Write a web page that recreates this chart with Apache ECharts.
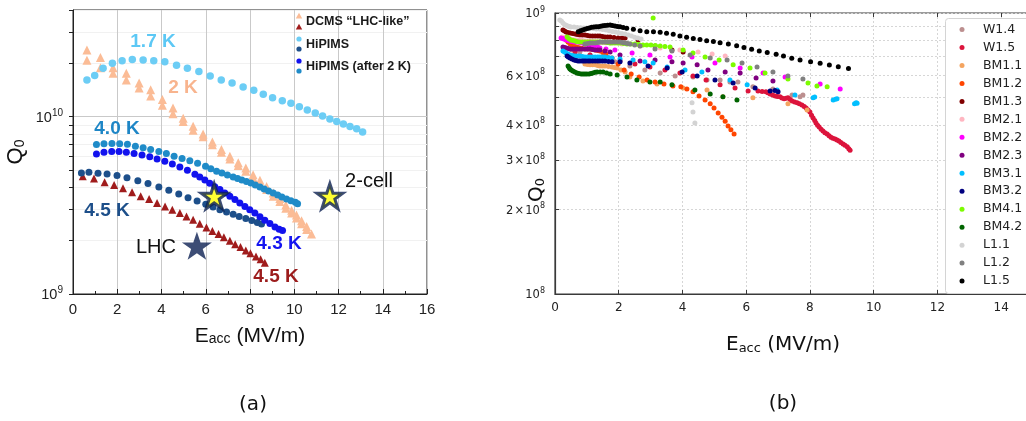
<!DOCTYPE html>
<html>
<head>
<meta charset="utf-8">
<script src="https://cdn.jsdelivr.net/npm/echarts@6/dist/echarts.min.js"></script>
<style>
html,body{margin:0;padding:0;background:#fff;}
#chart{width:1026px;height:421px;}
</style>
</head>
<body>
<div id="chart"></div>
<script>
// ---------- Panel (a): Q0 vs Eacc, DCMS and HiPIMS coatings ----------
const hip17_E = [0.63,0.98,1.36,1.78,2.22,2.68,3.17,3.65,4.15,4.68,5.17,5.69,6.20,6.70,7.19,7.69,8.17,8.60,9.02,9.46,9.85,10.23,10.59,10.95,11.28,11.61,11.92,12.22,12.52,12.82,13.09];
const hip17_Q = [1.61e10,1.71e10,1.88e10,2.0e10,2.07e10,2.10e10,2.09e10,2.07e10,2.04e10,1.95e10,1.88e10,1.80e10,1.70e10,1.61e10,1.55e10,1.47e10,1.41e10,1.34e10,1.28e10,1.23e10,1.19e10,1.14e10,1.09e10,1.05e10,1.01e10,9.7e9,9.4e9,9.1e9,8.8e9,8.55e9,8.2e9];

const dcms2_E = [0.63,0.63,1.24,1.24,1.81,1.81,2.41,2.41,2.99,2.99,3.51,3.51,4.04,4.04,4.52,4.52,4.98,4.98,5.43,5.43,5.88,5.88,6.30,6.30,6.71,6.71,7.09,7.09,7.47,7.47,7.81,7.81,8.14,8.14,8.45,8.45,8.75,8.75,9.05,9.05,9.35,9.35,9.62,9.62,9.88,9.88,10.10,10.10,10.33,10.33,10.56,10.56,10.78];
const dcms2_Q = [2.38e10,2.08e10,2.16e10,1.89e10,1.89e10,1.76e10,1.76e10,1.61e10,1.55e10,1.45e10,1.42e10,1.31e10,1.25e10,1.16e10,1.12e10,1.04e10,9.8e9,9.4e9,8.85e9,8.4e9,7.98e9,7.7e9,7.2e9,6.95e9,6.53e9,6.3e9,5.98e9,5.78e9,5.5e9,5.3e9,5.13e9,4.93e9,4.71e9,4.52e9,4.38e9,4.2e9,4.04e9,3.88e9,3.71e9,3.56e9,3.46e9,3.32e9,3.18e9,3.05e9,2.97e9,2.86e9,2.79e9,2.68e9,2.59e9,2.49e9,2.40e9,2.31e9,2.18e9];

const hip40_E = [1.06,1.40,1.76,2.11,2.46,2.82,3.17,3.51,3.88,4.22,4.57,4.93,5.28,5.63,5.99,6.23,6.49,6.73,6.98,7.24,7.44,7.63,7.84,8.04,8.24,8.45,8.64,8.84,9.05,9.25,9.44,9.65,9.85,10.05,10.15];
const hip40_Q = [6.97e9,7.03e9,7.06e9,7.03e9,7.0e9,6.82e9,6.68e9,6.53e9,6.37e9,6.2e9,5.98e9,5.81e9,5.64e9,5.47e9,5.26e9,5.08e9,4.92e9,4.82e9,4.69e9,4.57e9,4.48e9,4.40e9,4.31e9,4.23e9,4.12e9,4.02e9,3.91e9,3.81e9,3.71e9,3.62e9,3.52e9,3.43e9,3.36e9,3.29e9,3.23e9];

const hip43_E = [1.06,1.40,1.75,2.08,2.41,2.76,3.12,3.47,3.80,4.15,4.49,4.83,5.17,5.51,5.73,5.96,6.18,6.41,6.64,6.86,7.09,7.32,7.54,7.77,7.99,8.22,8.45,8.67,8.90,9.13,9.32,9.47];
const hip43_Q = [6.17e9,6.31e9,6.37e9,6.37e9,6.31e9,6.2e9,6.09e9,5.94e9,5.78e9,5.61e9,5.42e9,5.21e9,4.99e9,4.73e9,4.57e9,4.40e9,4.21e9,4.03e9,3.88e9,3.71e9,3.56e9,3.41e9,3.26e9,3.12e9,2.99e9,2.86e9,2.73e9,2.61e9,2.50e9,2.39e9,2.32e9,2.28e9];

const hip45_E = [0.38,0.72,1.13,1.54,1.99,2.44,2.93,3.39,3.88,4.33,4.78,5.20,5.61,6.00,6.33,6.64,6.94,7.24,7.51,7.81,8.08,8.33,8.52];
const hip45_Q = [4.82e9,4.86e9,4.8e9,4.76e9,4.66e9,4.52e9,4.36e9,4.2e9,4.02e9,3.85e9,3.67e9,3.49e9,3.35e9,3.21e9,3.1e9,2.99e9,2.9e9,2.82e9,2.74e9,2.67e9,2.6e9,2.53e9,2.48e9];

const dcms45_E = [0.44,0.95,1.43,1.86,2.26,2.67,3.06,3.44,3.80,4.16,4.49,4.83,5.13,5.43,5.73,6.03,6.30,6.58,6.82,7.09,7.33,7.57,7.81,8.02,8.27,8.48,8.67];
const dcms45_Q = [4.61e9,4.48e9,4.27e9,4.12e9,3.95e9,3.75e9,3.56e9,3.43e9,3.26e9,3.12e9,2.99e9,2.86e9,2.74e9,2.62e9,2.49e9,2.37e9,2.27e9,2.18e9,2.09e9,2.0e9,1.91e9,1.84e9,1.76e9,1.70e9,1.63e9,1.57e9,1.50e9];

// reference cavities: LHC and the single/2-cell results
const lhc_E = [5.6],  lhc_Q = [1.87e9];
const cell_E = [6.38, 11.61], cell_Q = [3.56e9, 3.56e9];

const yTicksA = [1e9,2e9,3e9,4e9,5e9,6e9,7e9,8e9,9e9,1e10,2e10,3e10,4e10];
const yLabelsA = [1e9, 1e10];

// ---------- Panel (b): Q0 vs Eacc per cavity test ----------
const W14_E = [0.53,0.78,1.10,1.41,1.88,2.35,2.82,3.30,3.77,4.33,4.77,5.18,5.49,5.74,6.21,6.84,7.44,7.69,7.78];
const W14_Q = [7.39e8,7.27e8,7.09e8,6.92e8,6.70e8,6.48e8,6.27e8,6.12e8,5.97e8,5.92e8,5.78e8,5.78e8,5.68e8,5.68e8,5.46e8,5.37e8,5.11e8,5.03e8,5.11e8];
const W15_E = [0.63,1.10,1.57,2.04,2.51,2.98,3.45,3.92,4.33,4.74,5.18,5.65,6.06,6.37,6.50,6.62,6.68,6.75,6.83,6.91,6.98,7.06,7.12,7.19,7.25,7.31,7.38,7.44,7.52,7.60,7.67,7.75,7.82,7.88,7.94,8.00,8.05,8.10,8.15,8.19,8.24,8.29,8.35,8.41,8.47,8.54,8.60,8.66,8.72,8.79,8.85,8.91,8.97,9.04,9.10,9.17,9.22,9.26];
const W15_Q = [7.27e8,7.09e8,6.92e8,6.75e8,6.59e8,6.43e8,6.27e8,6.12e8,5.97e8,5.78e8,5.55e8,5.41e8,5.28e8,5.28e8,5.26e8,5.24e8,5.20e8,5.15e8,5.11e8,5.07e8,5.05e8,5.03e8,4.98e8,4.95e8,4.97e8,4.99e8,4.92e8,4.86e8,4.82e8,4.79e8,4.75e8,4.71e8,4.65e8,4.59e8,4.52e8,4.44e8,4.33e8,4.23e8,4.14e8,4.06e8,3.99e8,3.93e8,3.86e8,3.80e8,3.75e8,3.71e8,3.66e8,3.61e8,3.58e8,3.56e8,3.53e8,3.50e8,3.46e8,3.42e8,3.38e8,3.34e8,3.29e8,3.25e8];
const BM11_E = [0.94,1.02,1.10,1.18,1.26,1.34,1.41,1.49,1.57,1.68,1.79,1.87,1.95,2.07,2.20,2.35,2.76,3.20,4.02,4.77,5.27,6.21,7.31,7.91];
const BM11_Q = [6.59e8,6.56e8,6.54e8,6.54e8,6.54e8,6.51e8,6.48e8,6.48e8,6.48e8,6.45e8,6.43e8,6.40e8,6.37e8,6.27e8,6.17e8,5.92e8,5.73e8,5.59e8,5.41e8,5.32e8,5.03e8,4.99e8,4.75e8,4.52e8];
const BM12_E = [0.31,0.36,0.41,0.47,0.53,0.60,0.66,0.72,0.78,0.86,0.94,1.02,1.10,1.18,1.26,1.34,1.41,1.50,1.60,1.79,1.98,2.17,2.39,2.64,2.89,3.14,3.42,3.70,3.95,4.14,4.33,4.52,4.71,4.87,4.99,5.12,5.24,5.34,5.43,5.52,5.62];
const BM12_Q = [8.15e8,8.0e8,7.88e8,7.78e8,7.69e8,7.62e8,7.57e8,7.54e8,7.51e8,7.48e8,7.45e8,7.45e8,7.45e8,7.42e8,7.39e8,7.36e8,7.33e8,7.24e8,7.15e8,6.92e8,6.59e8,6.27e8,6.07e8,5.92e8,5.78e8,5.68e8,5.59e8,5.50e8,5.46e8,5.37e8,5.24e8,5.07e8,4.90e8,4.75e8,4.59e8,4.41e8,4.26e8,4.12e8,3.96e8,3.84e8,3.71e8];
const BM13_E = [0.25,0.30,0.35,0.40,0.47,0.55,0.63,0.70,0.78,0.86,0.94,1.02,1.10,1.18,1.26,1.34,1.41,1.49,1.57,1.65,1.73,1.85,1.98,2.10,2.20,2.61,3.14,3.67,4.02];
const BM13_Q = [8.70e8,8.63e8,8.56e8,8.52e8,8.49e8,8.45e8,8.42e8,8.38e8,8.35e8,8.35e8,8.35e8,8.31e8,8.28e8,8.28e8,8.28e8,8.28e8,8.28e8,8.25e8,8.22e8,8.22e8,8.22e8,8.18e8,8.15e8,8.15e8,8.15e8,8.01e8,7.63e8,7.39e8,7.27e8];
const BM21_E = [0.22,0.27,0.31,0.39,0.47,0.55,0.63,0.70,0.78,0.86,0.94,1.02,1.10,1.20,1.30,1.41,1.50,1.60,1.73,2.10,2.67,3.30,3.92,4.49,4.93,5.34];
const BM21_Q = [8.22e8,8.18e8,8.15e8,8.11e8,8.08e8,8.04e8,8.01e8,8.01e8,8.01e8,7.98e8,7.95e8,7.95e8,7.95e8,7.92e8,7.90e8,7.88e8,7.86e8,7.84e8,7.82e8,7.76e8,7.63e8,7.51e8,7.39e8,7.27e8,7.15e8,7.03e8];
const BM22_E = [0.19,0.24,0.28,0.33,0.38,0.42,0.47,0.53,0.60,0.66,0.72,0.78,0.85,0.91,0.97,1.03,1.10,1.18,1.26,1.34,1.41,1.60,1.88,2.42,2.98,3.61,4.30,5.02,5.81,6.53,7.22,8.32,8.95];
const BM22_Q = [8.15e8,8.11e8,8.08e8,8.04e8,8.01e8,7.98e8,7.95e8,7.92e8,7.88e8,7.88e8,7.88e8,7.85e8,7.82e8,7.79e8,7.76e8,7.72e8,7.69e8,7.66e8,7.63e8,7.57e8,7.51e8,7.45e8,7.39e8,7.21e8,7.09e8,6.98e8,6.98e8,6.64e8,6.37e8,6.12e8,5.92e8,5.59e8,5.37e8];
const BM23_E = [0.25,0.30,0.35,0.41,0.47,0.55,0.63,0.70,0.78,0.86,0.94,1.02,1.10,1.18,1.26,1.34,1.41,1.57,1.73,2.04,2.67,3.14,3.67,4.02,4.46,4.80,5.34,5.81,6.31,6.84];
const BM23_Q = [7.57e8,7.54e8,7.51e8,7.48e8,7.45e8,7.45e8,7.45e8,7.45e8,7.45e8,7.45e8,7.45e8,7.45e8,7.45e8,7.42e8,7.39e8,7.39e8,7.39e8,7.33e8,7.27e8,7.09e8,6.75e8,6.81e8,6.70e8,6.64e8,6.54e8,6.27e8,6.17e8,6.12e8,5.87e8,5.73e8];
const BM31_E = [0.25,0.30,0.35,0.41,0.47,0.55,0.63,0.70,0.78,0.86,0.94,1.02,1.10,1.18,1.26,1.34,1.41,1.49,1.57,1.68,1.79,2.04,2.45,2.82,3.08,3.52,4.08,4.61,5.49,6.03,6.97,7.53,8.10,8.15,8.73,8.80,8.85,9.40,9.45,9.48];
const BM31_Q = [7.33e8,7.27e8,7.21e8,7.15e8,7.09e8,7.06e8,7.03e8,7.03e8,7.03e8,7.0e8,6.98e8,6.98e8,6.98e8,6.98e8,6.98e8,6.98e8,6.98e8,6.98e8,6.98e8,6.95e8,6.92e8,6.86e8,6.81e8,6.70e8,6.64e8,6.43e8,6.27e8,6.17e8,5.78e8,5.55e8,5.32e8,5.11e8,4.99e8,5.02e8,4.90e8,4.93e8,4.95e8,4.75e8,4.79e8,4.77e8];
const BM32_E = [0.38,0.42,0.47,0.53,0.60,0.66,0.72,0.78,0.85,0.91,0.97,1.04,1.10,1.18,1.26,1.34,1.41,1.49,1.57,1.68,1.79,2.04,2.35,2.92,3.52,3.99,4.46,5.02,5.59,6.28,6.75,6.90,7.00];
const BM32_Q = [7.03e8,6.97e8,6.92e8,6.86e8,6.81e8,6.78e8,6.75e8,6.75e8,6.75e8,6.75e8,6.75e8,6.75e8,6.75e8,6.75e8,6.75e8,6.75e8,6.75e8,6.75e8,6.75e8,6.72e8,6.70e8,6.70e8,6.64e8,6.48e8,6.37e8,6.17e8,5.97e8,5.78e8,5.64e8,5.41e8,5.28e8,5.30e8,5.24e8];
const BM41_E = [0.38,0.44,0.50,0.57,0.63,0.70,0.78,0.86,0.94,1.02,1.10,1.18,1.26,1.34,1.41,1.49,1.57,1.65,1.73,1.80,1.88,1.96,2.04,2.15,2.26,2.38,2.51,2.63,2.76,2.88,3.01,3.15,3.30,3.45,3.61,3.08,4.02,4.33,4.71,5.15,5.59,6.12,6.59,7.31,7.94,8.22,8.54];
const BM41_Q = [8.22e8,8.10e8,8.01e8,7.98e8,7.95e8,7.90e8,7.88e8,7.88e8,7.88e8,7.88e8,7.88e8,7.88e8,7.88e8,7.88e8,7.88e8,7.88e8,7.88e8,7.85e8,7.82e8,7.82e8,7.82e8,7.82e8,7.82e8,7.79e8,7.76e8,7.76e8,7.76e8,7.72e8,7.69e8,7.69e8,7.69e8,7.66e8,7.63e8,7.60e8,7.57e8,9.60e8,7.39e8,7.21e8,6.98e8,6.81e8,6.54e8,6.37e8,6.12e8,5.82e8,5.64e8,5.50e8,5.46e8];
const BM42_E = [0.41,0.44,0.47,0.51,0.56,0.62,0.69,0.75,0.82,0.88,0.94,1.00,1.07,1.13,1.19,1.26,1.32,1.42,1.51,1.62,1.73,1.95,2.26,2.57,2.98,3.30,3.67,4.39,4.87,5.27,5.71];
const BM42_Q = [6.48e8,6.40e8,6.32e8,6.27e8,6.22e8,6.17e8,6.12e8,6.09e8,6.07e8,6.07e8,6.07e8,6.07e8,6.07e8,6.09e8,6.12e8,6.15e8,6.17e8,6.17e8,6.17e8,6.12e8,6.07e8,6.02e8,5.92e8,5.78e8,5.68e8,5.68e8,5.55e8,5.32e8,5.15e8,5.03e8,4.90e8];
const L11_E = [0.15,0.20,0.25,0.30,0.35,0.40,0.45,0.50,0.60,0.70,0.80,0.90,1.00,1.10,1.20,1.30,1.40,1.50,1.60,1.70,1.80,1.90,2.00,2.10,2.20,2.30,2.40,2.50,2.60,2.70,4.30,4.33,4.39];
const L11_Q = [9.45e8,9.37e8,9.21e8,9.10e8,9.04e8,8.99e8,8.96e8,8.92e8,8.92e8,8.88e8,8.86e8,8.84e8,8.84e8,8.84e8,8.80e8,8.77e8,8.77e8,8.73e8,8.70e8,8.65e8,8.60e8,8.56e8,8.50e8,8.46e8,8.42e8,8.35e8,8.28e8,8.20e8,8.15e8,8.08e8,4.79e8,4.44e8,4.06e8];
const L12_E = [0.94,1.02,1.10,1.18,1.26,1.34,1.41,1.49,1.57,1.65,1.73,1.80,1.88,1.96,2.04,2.12,2.20,2.28,2.35,2.50,2.67,3.14,3.67,4.24,4.87,5.40,5.87,6.34,6.84,7.31,7.78];
const L12_Q = [7.76e8,7.79e8,7.82e8,7.82e8,7.82e8,7.85e8,7.88e8,7.88e8,7.88e8,7.88e8,7.88e8,7.88e8,7.88e8,7.88e8,7.88e8,7.85e8,7.82e8,7.79e8,7.76e8,7.70e8,7.63e8,7.45e8,7.33e8,7.09e8,6.92e8,6.81e8,6.64e8,6.43e8,6.17e8,5.97e8,5.82e8];
const L15_E = [0.73,0.80,0.87,0.94,1.01,1.08,1.15,1.22,1.29,1.36,1.43,1.50,1.57,1.65,1.73,1.80,1.88,1.96,2.04,2.14,2.25,2.46,2.67,2.88,3.09,3.30,3.50,3.71,3.92,4.13,4.34,4.55,4.76,4.97,5.18,5.44,5.70,5.93,6.17,6.41,6.66,6.94,7.17,7.43,7.69,8.02,8.32,8.61,8.89,9.21];
const L15_Q = [8.58e8,8.64e8,8.70e8,8.75e8,8.80e8,8.85e8,8.89e8,8.91e8,8.93e8,8.94e8,8.97e8,9.00e8,9.02e8,9.04e8,9.06e8,9.03e8,8.99e8,8.96e8,8.94e8,8.88e8,8.82e8,8.75e8,8.65e8,8.58e8,8.58e8,8.54e8,8.47e8,8.40e8,8.28e8,8.19e8,8.12e8,8.05e8,7.97e8,7.91e8,7.84e8,7.76e8,7.64e8,7.53e8,7.43e8,7.33e8,7.23e8,7.13e8,7.03e8,6.90e8,6.81e8,6.71e8,6.62e8,6.53e8,6.44e8,6.35e8];

const cavityNames = ['W1.4','W1.5','BM1.1','BM1.2','BM1.3','BM2.1','BM2.2','BM2.3','BM3.1','BM3.2','BM4.1','BM4.2','L1.1','L1.2','L1.5'];
const cavityColors = ['#bc8f8f','#dc143c','#f4a460','#ff4500','#800000','#ffb6c1','#ff00ff','#800080','#00bfff','#000080','#7cfc00','#006400','#d3d3d3','#808080','#000000'];
const cavityE = [W14_E,W15_E,BM11_E,BM12_E,BM13_E,BM21_E,BM22_E,BM23_E,BM31_E,BM32_E,BM41_E,BM42_E,L11_E,L12_E,L15_E];
const cavityQ = [W14_Q,W15_Q,BM11_Q,BM12_Q,BM13_Q,BM21_Q,BM22_Q,BM23_Q,BM31_Q,BM32_Q,BM41_Q,BM42_Q,L11_Q,L12_Q,L15_Q];

const yTicksB = [1e8,2e8,3e8,4e8,5e8,6e8,7e8,8e8,9e8,1e9];
const yLabelsB = [1e8,2e8,3e8,4e8,6e8,1e9];

// ---------- helpers ----------
const pairs = (E, Q) => E.map((e, i) => [e, Q[i]]);
const STAR = 'path://M50,0 L61.8,35.1 L98.9,35.1 L68.9,56.7 L80.3,91.9 L50,70.2 L19.7,91.9 L31.1,56.7 L1.1,35.1 L38.2,35.1 Z';

// "m × 10^e" as rich text, mantissa omitted when it is 1
function powLabel(v, sep) {
  const e = Math.floor(Math.log10(v) + 1e-6);
  const m = Math.round(v / Math.pow(10, e));
  return m === 1 ? '{b|10}{s|' + e + '}' : '{b|' + m + sep + '\u00d7' + sep + '10}{s|' + e + '}';
}

const FA = '"Liberation Sans", Arial, sans-serif';
const FB = '"DejaVu Sans", sans-serif';
const richA = {
  b: {fontSize: 14.5, fontFamily: FA, fill: '#222', color: '#222', lineHeight: 17, verticalAlign: 'bottom'},
  s: {fontSize: 10, fontFamily: FA, fill: '#222', color: '#222', lineHeight: 8, verticalAlign: 'top'}
};
const richB = {
  b: {fontSize: 11.5, fontFamily: FB, fill: '#222', color: '#222', lineHeight: 15, verticalAlign: 'bottom'},
  s: {fontSize: 8, fontFamily: FB, fill: '#222', color: '#222', lineHeight: 7, verticalAlign: 'top'}
};

const chart = echarts.init(document.getElementById('chart'), null, {renderer: 'canvas'});

const seriesA = [
  {name: 'DCMS 2 K', data: pairs(dcms2_E, dcms2_Q), symbol: 'triangle', symbolSize: 9, color: '#fbbc96'},
  {name: 'DCMS 4.5 K', data: pairs(dcms45_E, dcms45_Q), symbol: 'triangle', symbolSize: 8, color: '#a01c1c'},
  {name: 'HiPIMS 1.7 K', data: pairs(hip17_E, hip17_Q), symbol: 'circle', symbolSize: 7.5, color: '#6ccdf5'},
  {name: 'HiPIMS 4.5 K', data: pairs(hip45_E, hip45_Q), symbol: 'circle', symbolSize: 7, color: '#1d4f8a'},
  {name: 'HiPIMS 4.0 K', data: pairs(hip40_E, hip40_Q), symbol: 'circle', symbolSize: 7, color: '#1f8bc8'},
  {name: 'HiPIMS 4.3 K', data: pairs(hip43_E, hip43_Q), symbol: 'circle', symbolSize: 7, color: '#1212ee'}
].map(s => ({
  type: 'scatter', xAxisIndex: 0, yAxisIndex: 0, name: s.name, data: s.data,
  symbol: s.symbol, symbolSize: s.symbolSize, itemStyle: {color: s.color, opacity: 1},
  silent: true
}));

seriesA.push({
  type: 'scatter', name: 'LHC', xAxisIndex: 0, yAxisIndex: 0, silent: true, z: 5,
  data: pairs(lhc_E, lhc_Q), symbol: STAR, symbolSize: [30, 28],
  itemStyle: {color: '#0d2152'}
});
seriesA.push({
  type: 'scatter', name: 'cavities', xAxisIndex: 0, yAxisIndex: 0, silent: true, z: 5,
  data: pairs(cell_E, cell_Q), symbol: STAR, symbolSize: [26, 25],
  itemStyle: {color: '#ffff00', borderColor: '#0d2152', borderWidth: 3}
});

const seriesB = cavityNames.map((n, i) => ({
  type: 'scatter', name: n, xAxisIndex: 1, yAxisIndex: 2, silent: true,
  data: pairs(cavityE[i], cavityQ[i]), symbol: 'circle', symbolSize: 5,
  itemStyle: {color: cavityColors[i], opacity: 1}
}));

const tA = (text, x, y, color, size, weight) => ({
  type: 'text', x: x, y: y, silent: true, z: 100,
  style: {text: text, fill: color, fontSize: size, fontWeight: weight || 'bold', fontFamily: FA, align: 'center', verticalAlign: 'middle'}
});
const tri = (x, y, color) => ({
  type: 'polygon', silent: true, z: 100, shape: {points: [[x, y - 3.2], [x + 3.2, y + 2.6], [x - 3.2, y + 2.6]]}, style: {fill: color}
});
const dot = (x, y, color, r) => ({
  type: 'circle', silent: true, z: 100, shape: {cx: x, cy: y, r: r || 2.6}, style: {fill: color}
});
const legA = (text, y) => ({
  type: 'text', x: 306, y: y, silent: true, z: 100,
  style: {text: text, fill: '#1a1a1a', fontSize: 12.5, fontWeight: 'bold', fontFamily: FA, align: 'left', verticalAlign: 'middle'}
});

// legend box of panel (b): one row per cavity test
const legendB = [{
  type: 'rect', silent: true, z: 102,
  shape: {x: 945.5, y: 18.5, width: 110, height: 275, r: 3},
  style: {fill: '#ffffff', stroke: '#d4d4d4', lineWidth: 1}
}];
cavityNames.forEach((n, i) => {
  const y = 29.5 + i * 17.97;
  legendB.push(Object.assign(dot(962, y, cavityColors[i], 2.5), {z: 103}));
  legendB.push({
    type: 'text', x: 983, y: y, silent: true, z: 103,
    style: {text: n, fill: '#222', fontSize: 12.5, fontFamily: FB, align: 'left', verticalAlign: 'middle'}
  });
});

const option = {
  animation: false,
  backgroundColor: '#ffffff',
  grid: [
    {left: 73, top: 10, width: 354, height: 284, show: true, borderColor: '#222', borderWidth: 1, backgroundColor: 'transparent', outerBoundsMode: 'none'},
    {left: 555, top: 13, width: 478, height: 281, show: true, borderColor: '#3a3a3a', borderWidth: 1.2, backgroundColor: 'transparent', outerBoundsMode: 'none'}
  ],
  xAxis: [
    {
      gridIndex: 0, type: 'value', min: 0, max: 16, interval: 2,
      axisLine: {show: true, onZero: false, lineStyle: {color: '#222', width: 1}},
      axisTick: {show: true, inside: true, length: 5, lineStyle: {color: '#222'}},
      minorTick: {show: true, splitNumber: 2, length: 3, lineStyle: {color: '#222'}},
      axisLabel: {color: '#222', fontSize: 15, fontFamily: FA, margin: 8},
      splitLine: {show: true, lineStyle: {color: '#c9c9c9', width: 1}}
    },
    {
      gridIndex: 1, type: 'value', min: 0, max: 15, interval: 2,
      axisLine: {show: true, onZero: false, lineStyle: {color: '#3a3a3a', width: 1.2}},
      axisTick: {show: true, inside: true, length: 4, lineStyle: {color: '#3a3a3a'}},
      axisLabel: {color: '#222', fontSize: 12, fontFamily: FB, margin: 8, showMaxLabel: false},
      splitLine: {show: true, lineStyle: {color: '#d6d6d6', width: 1, type: [2, 2]}}
    },
    {
      gridIndex: 1, type: 'value', min: 0, max: 15, interval: 2, position: 'top',
      axisLine: {show: false},
      axisTick: {show: true, inside: true, length: 4, lineStyle: {color: '#3a3a3a'}},
      axisLabel: {show: false}, splitLine: {show: false}
    }
  ],
  yAxis: [
    {
      gridIndex: 0, type: 'log', logBase: 10, min: 1e9, max: 4e10,
      axisLine: {show: true, lineStyle: {color: '#222', width: 1}},
      axisTick: {show: true, inside: false, length: 4, customValues: yTicksA, lineStyle: {color: '#222'}},
      axisLabel: {show: false},
      splitLine: {show: true, lineStyle: {color: '#f1f1f1', width: 1}}
    },
    {
      gridIndex: 0, type: 'log', logBase: 10, min: 1e9, max: 4e10, position: 'right',
      axisLine: {show: false}, axisLabel: {show: false},
      axisTick: {show: false, customValues: [1e10]},
      splitLine: {show: true, lineStyle: {color: '#c9c9c9', width: 1}}
    },
    {
      gridIndex: 1, type: 'log', logBase: 10, min: 1e8, max: 1e9,
      axisLine: {show: true, lineStyle: {color: '#3a3a3a', width: 1.2}},
      axisTick: {show: true, inside: true, length: 4, customValues: yTicksB, lineStyle: {color: '#3a3a3a'}},
      axisLabel: {show: false},
      splitLine: {show: true, lineStyle: {color: '#d6d6d6', width: 1, type: [2, 2]}}
    }
  ],
  series: seriesA.concat(seriesB)
};

chart.setOption(option);

// y tick labels: placed on the axis positions reported by the log scales
const tickLabels = [];
yLabelsA.forEach(v => {
  tickLabels.push({
    type: 'text', silent: true, z: 100, x: 63, y: chart.convertToPixel({yAxisIndex: 0}, v),
    style: {text: powLabel(v, ''), rich: richA, align: 'right', verticalAlign: 'middle'}
  });
});
yLabelsB.forEach(v => {
  tickLabels.push({
    type: 'text', silent: true, z: 100, x: 545, y: chart.convertToPixel({yAxisIndex: 2}, v),
    style: {text: powLabel(v, '\u200a'), rich: richB, align: 'right', verticalAlign: 'middle'}
  });
});

const graphics = [
  // in-plot annotations, panel (a)
  tA('1.7 K', 153, 42, '#5cc8f5', 19),
  tA('2 K', 183, 88, '#f8b48e', 19),
  tA('4.0 K', 117, 129, '#1e86c6', 19),
  tA('4.5 K', 107, 211, '#1d4f8a', 19),
  tA('4.3 K', 279, 244, '#1414f0', 19),
  tA('4.5 K', 276, 277, '#9c1c1c', 19),
  tA('LHC', 156, 247, '#111', 20, 'normal'),
  tA('2-cell', 369, 181, '#111', 20, 'normal'),
  // legend, panel (a)
  tri(299, 16, '#fbbc96'), tri(299, 27, '#a01c1c'),
  dot(299, 39, '#6ccdf5'), dot(299, 49, '#1d4f8a'),
  dot(299, 61, '#1212ee'), dot(299, 71, '#1f8bc8'),
  legA('DCMS \u201cLHC-like\u201d', 22),
  legA('HiPIMS', 45),
  legA('HiPIMS (after 2 K)', 67),
  // axis titles
  {type: 'text', x: 16, y: 152, rotation: Math.PI / 2, silent: true, style: {
    text: '{b|Q}{s|0}', align: 'center', verticalAlign: 'middle',
    rich: {b: {fontSize: 22, fontFamily: FA, fill: '#111', color: '#111', lineHeight: 22, verticalAlign: 'top'},
           s: {fontSize: 14, fontFamily: FA, fill: '#111', color: '#111', lineHeight: 8, verticalAlign: 'bottom'}}
  }},
  {type: 'text', x: 250, y: 336, silent: true, style: {
    text: '{b|E}{s|acc}{b| (MV/m)}', align: 'center', verticalAlign: 'middle',
    rich: {b: {fontSize: 21, fontFamily: FA, fill: '#111', color: '#111', lineHeight: 21, verticalAlign: 'top'},
           s: {fontSize: 14, fontFamily: FA, fill: '#111', color: '#111', lineHeight: 4, verticalAlign: 'bottom'}}
  }},
  {type: 'text', x: 537, y: 190, rotation: Math.PI / 2, silent: true, style: {
    text: '{b|Q}{s|0}', align: 'center', verticalAlign: 'middle',
    rich: {b: {fontSize: 20, fontFamily: FB, fill: '#111', color: '#111', lineHeight: 20, verticalAlign: 'top'},
           s: {fontSize: 13, fontFamily: FB, fill: '#111', color: '#111', lineHeight: 7, verticalAlign: 'bottom'}}
  }},
  {type: 'text', x: 783, y: 345, silent: true, style: {
    text: '{b|E}{s|acc}{b| (MV/m)}', align: 'center', verticalAlign: 'middle',
    rich: {b: {fontSize: 20, fontFamily: FB, fill: '#111', color: '#111', lineHeight: 20, verticalAlign: 'top'},
           s: {fontSize: 13, fontFamily: FB, fill: '#111', color: '#111', lineHeight: 6, verticalAlign: 'bottom'}}
  }},
  // panel captions
  {type: 'text', x: 253, y: 405, silent: true, style: {text: '(a)', fill: '#111', fontSize: 20, fontFamily: FB, align: 'center', verticalAlign: 'middle'}},
  {type: 'text', x: 783, y: 404, silent: true, style: {text: '(b)', fill: '#111', fontSize: 20, fontFamily: FB, align: 'center', verticalAlign: 'middle'}}
].concat(tickLabels, legendB);

chart.setOption({graphic: graphics});
</script>
</body>
</html>
